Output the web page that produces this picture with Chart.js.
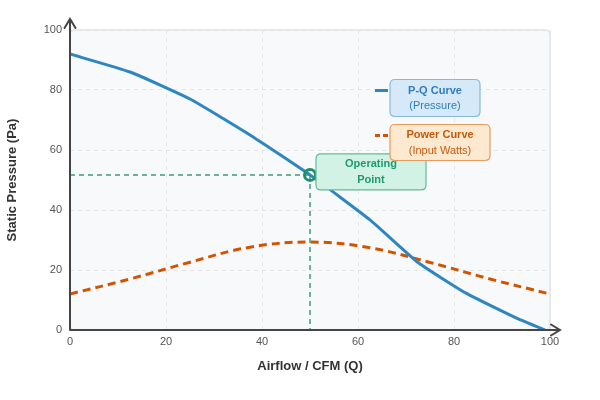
<!DOCTYPE html>
<html>
<head>
<meta charset="utf-8">
<script src="https://cdn.jsdelivr.net/npm/chart.js@4/dist/chart.umd.min.js"></script>
<style>
    body { margin: 0; background: #ffffff; }
    #wrap { width: 600px; height: 400px; }
</style>
</head>
<body>
<div id="wrap"><canvas id="graph" width="600" height="400"></canvas></div>
<script>
// Curve data
const pqAirflow = [0, 12.5, 25, 37.5, 50, 62.5, 72.5, 82.5, 93.5, 99];
const pqPressure = [92, 86, 77, 65, 51.7, 36.7, 22.5, 12.3, 3.6, 0];

const powerAirflow = [0, 12.5, 25, 37.5, 50, 62.5, 75, 87.5, 100];
const powerValues = [12, 17, 22.6, 27.6, 29.3, 27.4, 22.5, 17, 12];

const operatingPoint = { x: 50, y: 51.7 };

const xTicks = [0, 20, 40, 60, 80, 100];
const yTicks = [0, 20, 40, 60, 80, 100];

const FONT = "'Liberation Sans', Arial, sans-serif";
const BLUE = '#2e86c1';
const ORANGE = '#d35400';
const GREEN = '#1d8f6a';

function toPoints(xs, ys) {
    return xs.map((x, i) => ({ x: x, y: ys[i] }));
}

function roundRect(ctx, x, y, w, h, r) {
    ctx.beginPath();
    ctx.moveTo(x + r, y);
    ctx.lineTo(x + w - r, y);
    ctx.quadraticCurveTo(x + w, y, x + w, y + r);
    ctx.lineTo(x + w, y + h - r);
    ctx.quadraticCurveTo(x + w, y + h, x + w - r, y + h);
    ctx.lineTo(x + r, y + h);
    ctx.quadraticCurveTo(x, y + h, x, y + h - r);
    ctx.lineTo(x, y + r);
    ctx.quadraticCurveTo(x, y, x + r, y);
    ctx.closePath();
}

function labelBox(ctx, x, y, w, h, fill, stroke, color, line1, line2, boldSecond) {
    roundRect(ctx, x, y, w, h, 5);
    ctx.fillStyle = fill;
    ctx.fill();
    ctx.lineWidth = 1.2;
    ctx.strokeStyle = stroke;
    ctx.stroke();
    ctx.fillStyle = color;
    ctx.textAlign = 'center';
    ctx.textBaseline = 'middle';
    const cx = x + w / 2, cy = y + h / 2;
    ctx.font = 'bold 11px ' + FONT;
    ctx.fillText(line1, cx, cy - 7.5);
    ctx.font = (boldSecond ? 'bold ' : '') + '11px ' + FONT;
    ctx.fillText(line2, cx, cy + 8);
}

// Plot background, axes with arrows and the label boxes
const decorPlugin = {
    id: 'decor',
    beforeDraw(chart) {
        const { ctx, chartArea: a } = chart;
        ctx.save();
        roundRect(ctx, a.left, a.top, a.right - a.left, a.bottom - a.top, 5);
        ctx.fillStyle = '#f8f9fb';
        ctx.fill();
        ctx.lineWidth = 1.5;
        ctx.strokeStyle = '#e2e4e7';
        ctx.stroke();
        ctx.restore();
    },
    afterDatasetsDraw(chart) {
        const { ctx, chartArea: a } = chart;
        ctx.save();
        ctx.strokeStyle = '#454545';
        ctx.lineWidth = 2;
        ctx.lineCap = 'round';
        ctx.beginPath();
        ctx.moveTo(a.left, a.bottom);
        ctx.lineTo(a.left, a.top - 11);
        ctx.moveTo(a.left - 5.5, a.top - 2);
        ctx.lineTo(a.left, a.top - 11);
        ctx.lineTo(a.left + 5.5, a.top - 2);
        ctx.moveTo(a.left, a.bottom);
        ctx.lineTo(a.right + 10, a.bottom);
        ctx.moveTo(a.right + 1, a.bottom - 5.5);
        ctx.lineTo(a.right + 10, a.bottom);
        ctx.lineTo(a.right + 1, a.bottom + 5.5);
        ctx.stroke();
        ctx.restore();
    },
    afterDraw(chart) {
        const { ctx, chartArea: a, scales } = chart;
        ctx.save();
        // Operating point label
        const px = scales.x.getPixelForValue(operatingPoint.x);
        const py = scales.y.getPixelForValue(operatingPoint.y);
        labelBox(ctx, px + 6, py - 21, 110, 36, '#d3f2e6', '#63b99a', '#1f9a70', 'Operating', 'Point', true);

        // Legend boxes
        const lx = a.left + 320;
        const pqTop = a.top + 49.5;
        const pwTop = a.top + 94.5;
        ctx.lineWidth = 3;
        ctx.strokeStyle = BLUE;
        ctx.beginPath();
        ctx.moveTo(lx - 15, pqTop + 11);
        ctx.lineTo(lx - 2, pqTop + 11);
        ctx.stroke();
        labelBox(ctx, lx, pqTop, 90, 37, '#d6e9f8', '#86b9e1', '#2f7dc0', 'P-Q Curve', '(Pressure)', false);

        ctx.lineWidth = 3;
        ctx.strokeStyle = ORANGE;
        ctx.setLineDash([5, 3]);
        ctx.beginPath();
        ctx.moveTo(lx - 15, pwTop + 11);
        ctx.lineTo(lx - 2, pwTop + 11);
        ctx.stroke();
        ctx.setLineDash([]);
        labelBox(ctx, lx, pwTop, 100, 36, '#fde8d0', '#e69c5f', '#c65a0c', 'Power Curve', '(Input Watts)', false);
        ctx.restore();
    }
};

const ctx = document.getElementById('graph').getContext('2d');
new Chart(ctx, {
    type: 'line',
    data: {
        datasets: [
            {
                label: 'Operating Point',
                data: [operatingPoint],
                showLine: false,
                pointRadius: 5.5,
                pointBorderWidth: 3,
                pointBorderColor: GREEN,
                pointBackgroundColor: 'rgba(255,255,255,0)',
                order: 0
            },
            {
                label: 'P-Q Curve',
                data: toPoints(pqAirflow, pqPressure),
                borderColor: BLUE,
                borderWidth: 3,
                pointRadius: 0,
                tension: 0.15,
                order: 1
            },
            {
                label: 'Power Curve',
                data: toPoints(powerAirflow, powerValues),
                borderColor: ORANGE,
                borderWidth: 3,
                borderDash: [8, 5],
                pointRadius: 0,
                tension: 0.4,
                order: 2
            },
            {
                label: 'guide-h',
                data: [{ x: 0, y: operatingPoint.y }, { x: operatingPoint.x, y: operatingPoint.y }],
                borderColor: '#3a9c7a',
                borderWidth: 1.5,
                borderDash: [5, 4],
                pointRadius: 0,
                order: 3
            },
            {
                label: 'guide-v',
                data: [{ x: operatingPoint.x, y: operatingPoint.y }, { x: operatingPoint.x, y: 0 }],
                borderColor: '#3a9c7a',
                borderWidth: 1.5,
                borderDash: [5, 4],
                pointRadius: 0,
                order: 3
            }
        ]
    },
    options: {
        responsive: false,
        animation: false,
        layout: { padding: { top: 30, right: 50, left: 0, bottom: 0 } },
        plugins: {
            legend: { display: false },
            tooltip: { enabled: false }
        },
        scales: {
            x: {
                type: 'linear',
                min: 0,
                max: 100,
                afterBuildTicks: scale => { scale.ticks = xTicks.map(v => ({ value: v })); },
                afterFit: scale => { scale.height = 70; },
                ticks: { color: '#555', font: { family: FONT, size: 11 }, padding: 5 },
                grid: { color: '#e3e4e6', lineWidth: 1, drawTicks: false },
                border: { display: false, dash: [4, 4] },
                title: {
                    display: true,
                    text: 'Airflow / CFM (Q)',
                    color: '#333',
                    font: { family: FONT, size: 13, weight: 'bold' },
                    padding: { top: 0, bottom: 26 }
                }
            },
            y: {
                min: 0,
                max: 100,
                afterBuildTicks: scale => { scale.ticks = yTicks.map(v => ({ value: v })); },
                afterFit: scale => { scale.width = 70; },
                ticks: { color: '#555', font: { family: FONT, size: 11 }, padding: 8 },
                grid: { color: '#e3e4e6', lineWidth: 1, drawTicks: false },
                border: { display: false, dash: [4, 4] },
                title: {
                    display: true,
                    text: 'Static Pressure (Pa)',
                    color: '#333',
                    font: { family: FONT, size: 13, weight: 'bold' },
                    padding: { top: 5, bottom: 0 }
                }
            }
        }
    },
    plugins: [decorPlugin]
});
</script>
</body>
</html>
